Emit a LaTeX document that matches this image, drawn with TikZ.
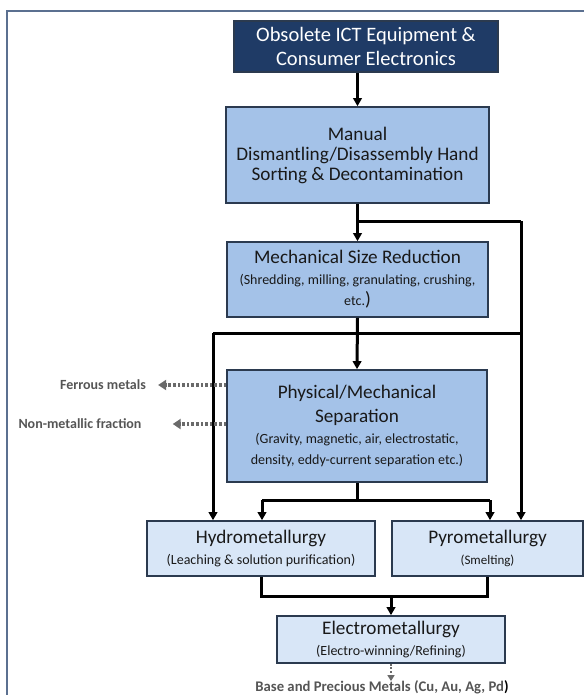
\documentclass[tikz,border=0pt]{standalone}
\usepackage{fontspec}
\setmainfont{Carlito}
\usetikzlibrary{arrows.meta,shadows}
\definecolor{navy}{HTML}{1F3B66}
\definecolor{midblue}{HTML}{A4C2E8}
\definecolor{lightblue}{HTML}{D8E6F7}
\definecolor{boxedge}{HTML}{2B3A4F}
\definecolor{framecol}{HTML}{5B7090}
\definecolor{lblgrey}{HTML}{555555}
\definecolor{arrgrey}{HTML}{6A6A6A}
\newcommand\subtxt[1]{{\fontsize{14}{16.5}\selectfont #1}}
\begin{document}
\begin{tikzpicture}[x=1pt,y=-1pt,
  box/.style={draw=boxedge, line width=1.6pt, inner sep=0pt, align=center,
    drop shadow={shadow xshift=1.3pt, shadow yshift=-1.3pt, opacity=0.45, fill=black},
    font=\fontsize{19.2}{21}\selectfont},
  topbox/.style={box, fill=navy, text=white, font=\fontsize{20.5}{24}\selectfont},
  midbox/.style={box, fill=midblue, text=black!90},
  litebox/.style={box, fill=lightblue, text=black!90},
  wire/.style={line width=3pt, black},
  conn/.style={wire, -{Triangle[length=8pt,width=8.5pt]}},
  greyarr/.style={line width=3.2pt, arrgrey, dash pattern=on 2.6pt off 2pt, -{Triangle[length=8pt,width=10pt]}},
  lbl/.style={inner sep=0pt, text=lblgrey, font=\fontsize{14}{16}\selectfont\bfseries}
]
\useasboundingbox (0,0) rectangle (584,695);
\draw[framecol, line width=2.2pt] (7,695) -- (7,11) -- (584,11);

\node[topbox, minimum width=264pt, minimum height=51pt] (top) at (366,46.5)
  {Obsolete ICT Equipment \&\\Consumer Electronics};
\node[midbox, minimum width=263pt, minimum height=96pt] (manual) at (357.5,155)
  {\raisebox{-4pt}{Manual}\\[-1pt]\raisebox{-4pt}{Dismantling/Disassembly Hand}\\[-1pt]\raisebox{-4pt}{Sorting \& Decontamination}};
\node[midbox, minimum width=261pt, minimum height=75pt] (mech) at (357.5,279.5)
  {Mechanical Size Reduction\\\subtxt{(Shredding, milling, granulating, crushing,}\\\subtxt{etc.})};
\node[midbox, minimum width=260pt, minimum height=112pt] (phys) at (357,426)
  {Physical/Mechanical\\[3pt]Separation\\\subtxt{(Gravity, magnetic, air, electrostatic,}\\\subtxt{density, eddy-current separation etc.)}};
\node[litebox, minimum width=228pt, minimum height=55pt] (hydro) at (261,548.5)
  {Hydrometallurgy\\\subtxt{(Leaching \& solution purification)}};
\node[litebox, minimum width=191pt, minimum height=55pt] (pyro) at (487.5,548.5)
  {Pyrometallurgy\\{\fontsize{13}{15}\selectfont (Smelting)}};
\node[litebox, minimum width=228pt, minimum height=47pt] (electro) at (391,639.5)
  {Electrometallurgy\\\subtxt{(Electro-winning/Refining)}};

\node[lbl] (ferr) at (103,385) {Ferrous metals};
\node[lbl] (nonmet) at (80,424) {Non-metallic fraction};
\node[lbl, font=\fontsize{14.7}{16}\selectfont\bfseries] (base) at (382,687) {Base and Precious Metals (Cu, Au, Ag, Pd\textcolor{black}{)}};

% main flow
\draw[conn] (top.south -| manual.north) -- (manual.north);
\draw[conn] (manual.south) -- (mech.north);
\coordinate (j1) at (357.5,221);
\coordinate (r1) at (521,221);
\draw[wire] (j1) -- (r1);
\draw[conn] (r1) -- (r1 |- pyro.north);

\draw[conn] (mech.south) -- (phys.north);
\coordinate (l2) at (213,333);
\coordinate (r2) at (521,333);
\draw[wire] (l2) -- (r2);
\draw[conn] (l2) -- (l2 |- hydro.north);

\coordinate (j3) at (357,500);
\coordinate (h3) at (262,500);
\coordinate (p3) at (490,500);
\draw[wire] (phys.south) -- (j3);
\draw[wire] (h3) -- (p3);
\draw[conn] (h3) -- (h3 |- hydro.north);
\draw[conn] (p3) -- (p3 |- pyro.north);

\coordinate (j4) at (391,596);
\draw[wire] (hydro.south) -- (hydro.south |- j4) -- (pyro.south |- j4) -- (pyro.south);
\draw[conn] (j4) -- (electro.north);

% side outputs
\draw[greyarr] (phys.west |- ferr.east) -- ([xshift=12pt]ferr.east);
\draw[greyarr] (phys.west |- nonmet.east) -- ([xshift=31pt]nonmet.east);
\draw[greyarr, line width=2.4pt, dash pattern=on 2pt off 1.6pt, -{Triangle[length=6pt,width=7pt]}] (electro.south) -- ([yshift=-1pt]electro.south |- base.north);
\end{tikzpicture}
\end{document}
